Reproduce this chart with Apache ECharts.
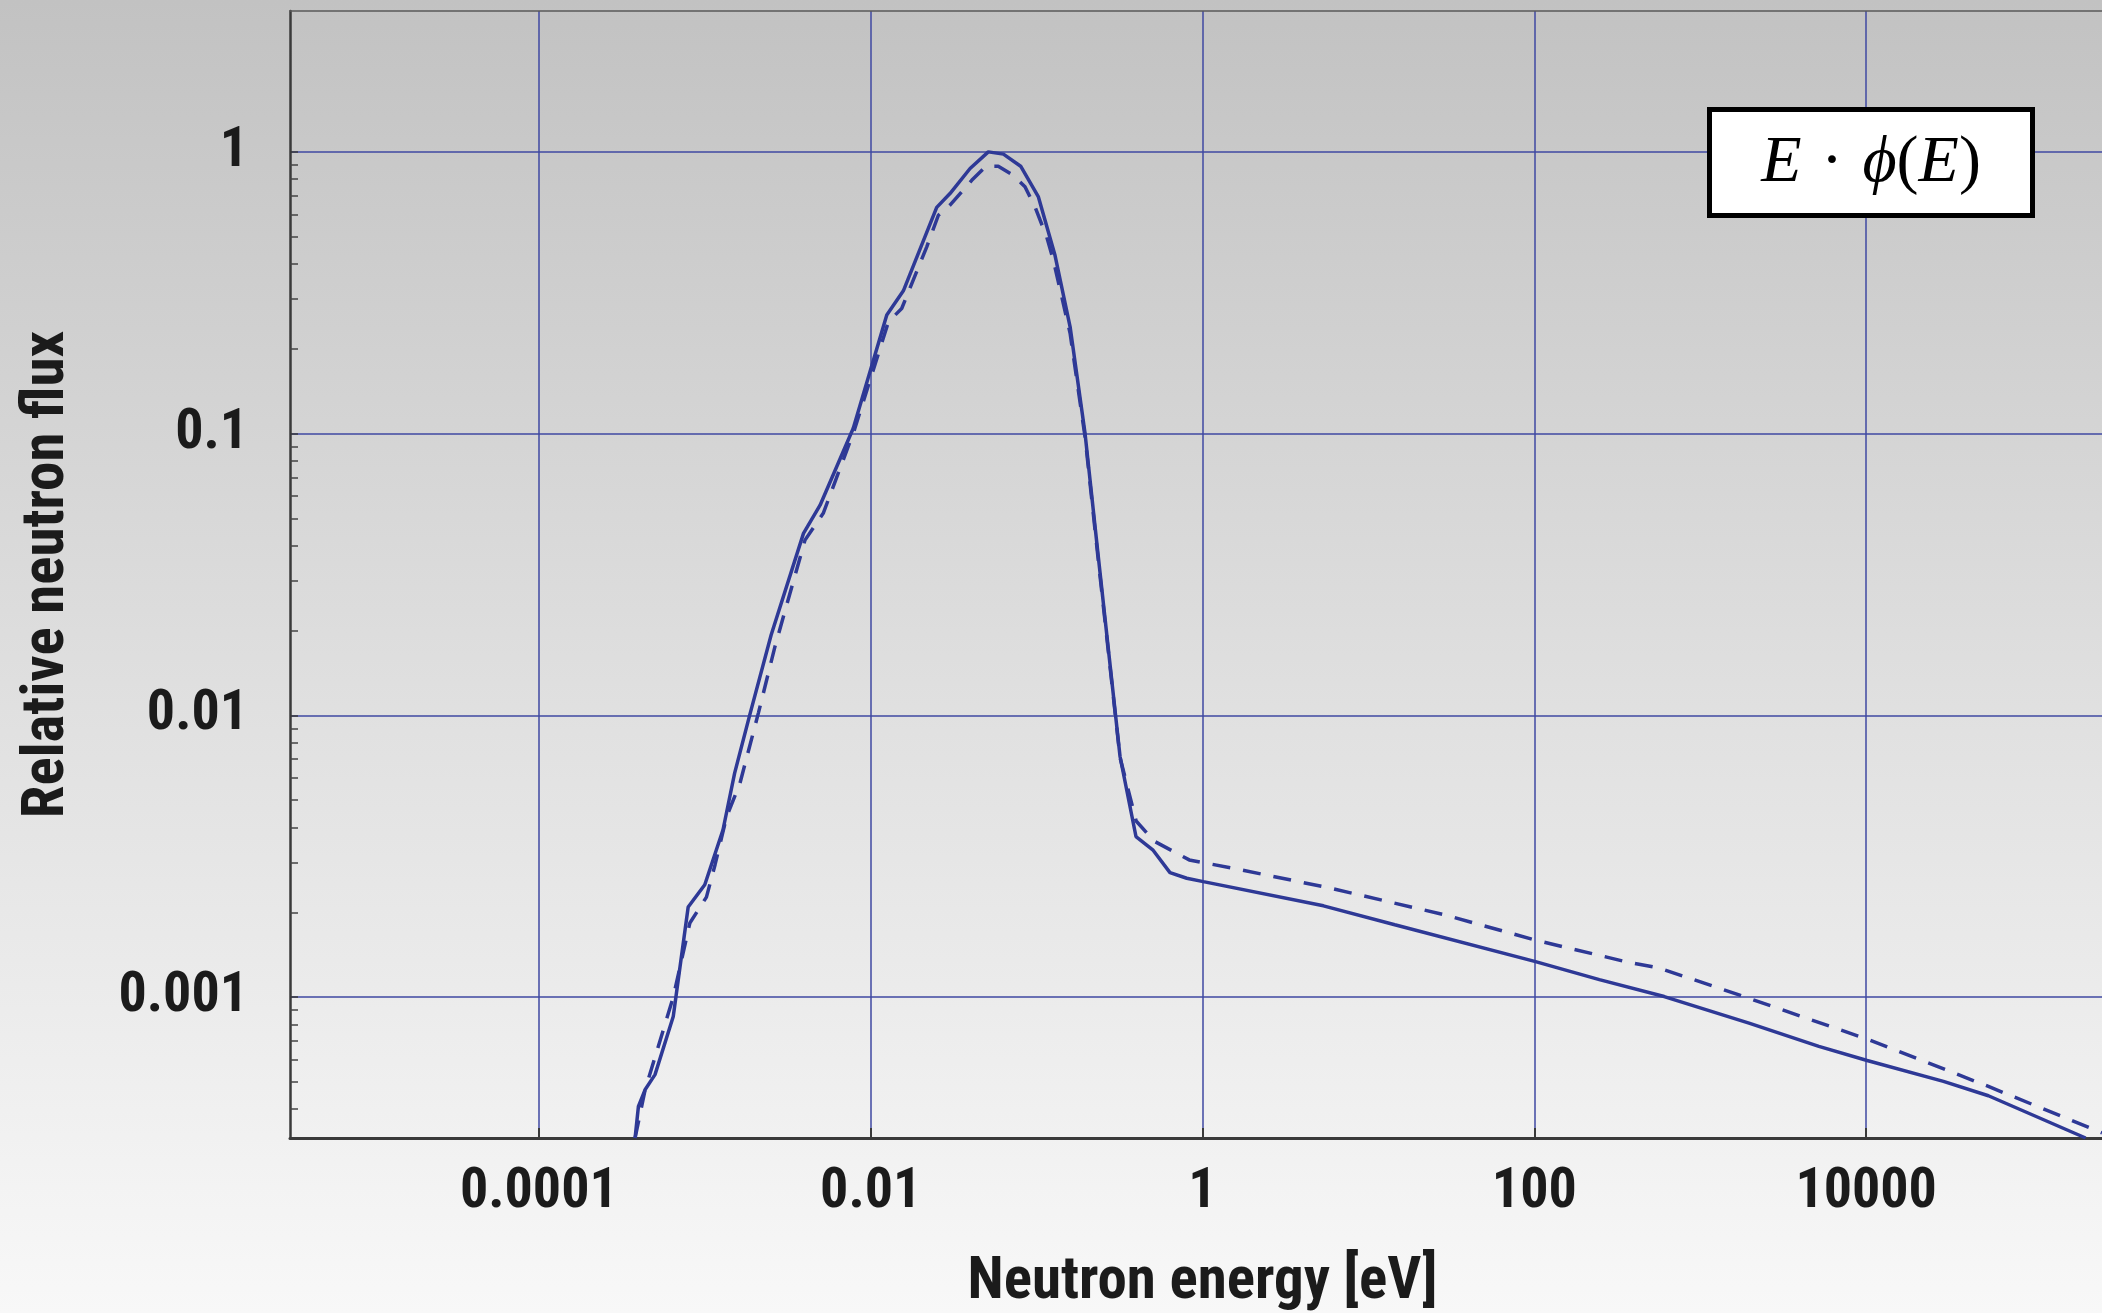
<!DOCTYPE html>
<html>
<head>
<meta charset="utf-8">
<title>Relative neutron flux</title>
<script src="https://cdn.jsdelivr.net/npm/echarts@6.0.0/dist/echarts.min.js"></script>
<style>
  html, body { margin: 0; padding: 0; }
  body {
    width: 2102px;
    height: 1313px;
    background: linear-gradient(to bottom, #c2c2c2 0%, #dedede 50%, #f8f8f8 100%);
  }
  #chart { width: 2102px; height: 1313px; }
</style>
</head>
<body>
<div id="chart"></div>
<script>
// [log10(E / eV), log10(relative flux)]
const solidCurve = [
  [-3.42, -3.50], [-3.40, -3.388], [-3.36, -3.329], [-3.30, -3.275], [-3.19, -3.069],
  [-3.10, -2.680], [-3.00, -2.601], [-2.89, -2.406], [-2.82, -2.205], [-2.73, -2.001],
  [-2.60, -1.715], [-2.405, -1.354], [-2.305, -1.254], [-2.105, -0.981], [-1.903, -0.579],
  [-1.803, -0.493], [-1.602, -0.197], [-1.522, -0.148], [-1.401, -0.059], [-1.291, 0.0],
  [-1.200, -0.008], [-1.096, -0.051], [-0.989, -0.160], [-0.889, -0.367], [-0.798, -0.621],
  [-0.708, -0.999], [-0.628, -1.437], [-0.497, -2.146], [-0.401, -2.430], [-0.300, -2.477],
  [-0.196, -2.558], [-0.095, -2.578], [0.005, -2.590], [0.729, -2.676], [1.159, -2.743],
  [2.002, -2.873], [2.392, -2.938], [2.783, -2.998], [3.294, -3.092], [3.715, -3.175],
  [4.006, -3.225], [4.466, -3.299], [4.737, -3.350], [5.323, -3.50]
];

const dashedCurve = [
  [-3.42, -3.50], [-3.36, -3.33], [-3.19, -3.00], [-3.09, -2.737], [-2.99, -2.645],
  [-2.938, -2.530], [-2.868, -2.359], [-2.788, -2.241], [-2.677, -1.992], [-2.577, -1.756],
  [-2.396, -1.378], [-2.286, -1.283], [-2.215, -1.171], [-2.10, -0.99], [-1.893, -0.603],
  [-1.813, -0.556], [-1.662, -0.337], [-1.592, -0.225], [-1.522, -0.189], [-1.391, -0.101],
  [-1.305, -0.051], [-1.231, -0.051], [-1.141, -0.083], [-1.070, -0.124], [-1.010, -0.195],
  [-0.939, -0.302], [-0.899, -0.384], [-0.798, -0.644], [-0.708, -1.011], [-0.628, -1.45],
  [-0.497, -2.15], [-0.40, -2.375], [-0.29, -2.447], [-0.08, -2.513], [0.23, -2.548],
  [0.769, -2.613], [1.460, -2.708], [2.002, -2.797], [2.542, -2.873], [2.753, -2.897],
  [3.234, -2.992], [4.006, -3.149], [4.737, -3.317], [5.422, -3.482]
];

const xTickValues = [-4, -2, 0, 2, 4];
const xTickLabels = ["0.0001", "0.01", "1", "100", "10000"];
const yTickValues = [-3, -2, -1, 0];
const yTickLabels = ["0.001", "0.01", "0.1", "1"];
const yMinorFactors = [2, 3, 4, 5, 6, 7, 8, 9];

const X_MIN = -5.5, X_MAX = 5.5;
const Y_MIN = -3.5, Y_MAX = 0.5;

// minor log ticks (k * 10^n) that fall inside the y range, below 1
const yMinorValues = [];
[-4, -3, -2, -1].forEach((n) => {
  yMinorFactors.forEach((k) => {
    const v = n + Math.log10(k);
    if (v >= Y_MIN && v < 0) yMinorValues.push(v);
  });
});

const labelFont = "'Roboto Condensed', 'Open Sans Condensed', 'Liberation Sans Narrow', sans-serif";
const mathFont = "'Liberation Serif', 'DejaVu Serif', serif";
const gridColor = "#3f49a2";
const curveColor = "#2e3996";
const axisColor = "#3a3a3a";
const textColor = "#1b1b1b";

const pickLabel = (vals, labels) => (v) => {
  const i = vals.indexOf(Math.round(v));
  return i >= 0 ? labels[i] : "";
};

const chart = echarts.init(document.getElementById("chart"), null, { renderer: "canvas" });

chart.setOption({
  animation: false,
  backgroundColor: "transparent",
  grid: {
    left: 290,
    top: 11,
    right: -13,
    bottom: 175,
    containLabel: false,
    outerBoundsMode: "none"
  },
  xAxis: [
    {
      type: "value",
      min: X_MIN,
      max: X_MAX,
      position: "bottom",
      axisLine: { show: true, onZero: false, lineStyle: { color: axisColor, width: 3 } },
      axisTick: {
        show: true,
        inside: true,
        length: 10,
        customValues: xTickValues,
        lineStyle: { color: axisColor, width: 2 }
      },
      axisLabel: {
        customValues: xTickValues,
        formatter: pickLabel(xTickValues, xTickLabels),
        fontFamily: labelFont,
        fontWeight: "bold",
        fontSize: 56,
        color: textColor,
        margin: 27
      },
      splitLine: { show: true, lineStyle: { color: gridColor, width: 1.5 } },
      name: "Neutron energy [eV]",
      nameLocation: "middle",
      nameGap: 116,
      nameTextStyle: {
        fontFamily: labelFont,
        fontWeight: "bold",
        fontSize: 59,
        color: textColor
      }
    },
    {
      // thin frame line along the top
      type: "value",
      min: X_MIN,
      max: X_MAX,
      position: "top",
      axisLine: { show: true, onZero: false, lineStyle: { color: "#5a5a5a", width: 1.5 } },
      axisTick: { show: false },
      axisLabel: { show: false },
      splitLine: { show: false }
    }
  ],
  yAxis: [
    {
      type: "value",
      min: Y_MIN,
      max: Y_MAX,
      position: "left",
      axisLine: { show: true, onZero: false, lineStyle: { color: axisColor, width: 2.5 } },
      axisTick: {
        show: true,
        inside: true,
        length: 8,
        customValues: yTickValues,
        lineStyle: { color: axisColor, width: 1.5 }
      },
      axisLabel: {
        customValues: yTickValues,
        formatter: pickLabel(yTickValues, yTickLabels),
        fontFamily: labelFont,
        fontWeight: "bold",
        fontSize: 56,
        color: textColor,
        margin: 42
      },
      splitLine: { show: true, lineStyle: { color: gridColor, width: 1.5 } },
      name: "Relative neutron flux",
      nameLocation: "middle",
      nameRotate: 90,
      nameGap: 212,
      nameTextStyle: {
        fontFamily: labelFont,
        fontWeight: "bold",
        fontSize: 59,
        color: textColor
      }
    },
    {
      // minor log ticks only
      type: "value",
      min: Y_MIN,
      max: Y_MAX,
      position: "left",
      axisLine: { show: false, onZero: false },
      axisTick: {
        show: true,
        inside: true,
        length: 8,
        customValues: yMinorValues,
        lineStyle: { color: "#444", width: 1.5 }
      },
      axisLabel: { show: false },
      splitLine: { show: false }
    }
  ],
  series: [
    {
      name: "solid",
      type: "line",
      xAxisIndex: 0,
      yAxisIndex: 0,
      data: solidCurve,
      symbol: "none",
      clip: true,
      z: 3,
      lineStyle: { color: curveColor, width: 3.5 }
    },
    {
      name: "dashed",
      type: "line",
      xAxisIndex: 0,
      yAxisIndex: 0,
      data: dashedCurve,
      symbol: "none",
      clip: true,
      z: 3,
      lineStyle: { color: curveColor, width: 3.5, type: [18, 13] }
    }
  ],
  graphic: [
    {
      type: "rect",
      z: 20,
      shape: { x: 1709.5, y: 109.5, width: 323, height: 106 },
      style: { fill: "#ffffff", stroke: "#000000", lineWidth: 5 }
    },
    {
      type: "text",
      z: 21,
      x: 1871,
      y: 164,
      style: {
        text: "{i|E} {d|·} {i|ϕ}({i|E})",
        align: "center",
        verticalAlign: "middle",
        fontFamily: mathFont,
        fontSize: 66,
        fill: "#000",
        rich: {
          i: { fontStyle: "italic", fontFamily: mathFont, fontSize: 66 },
          d: { fontFamily: mathFont, fontSize: 66, padding: [0, 3] }
        }
      }
    }
  ]
});

window.addEventListener("resize", () => chart.resize());
</script>
</body>
</html>
